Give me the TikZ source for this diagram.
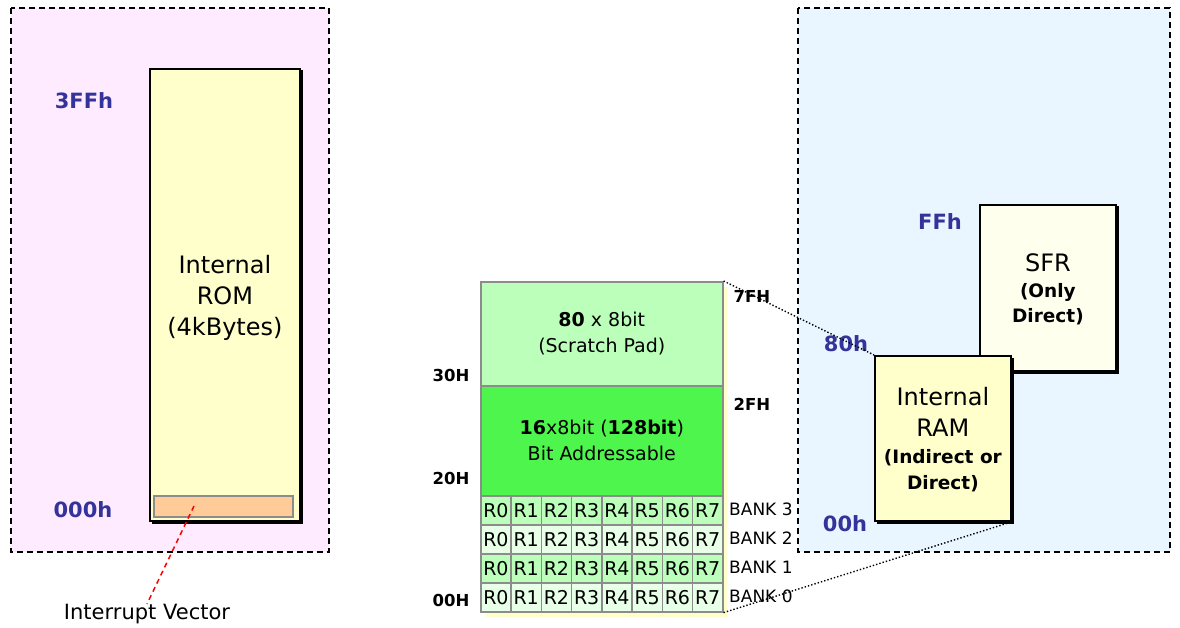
\documentclass[tikz,border=0pt]{standalone}
\usepackage{fontspec}
\setmainfont{DejaVu Sans}
\usetikzlibrary{positioning,shadows}

\definecolor{pinkarea}{HTML}{FFEBFF}
\definecolor{bluearea}{HTML}{EAF6FF}
\definecolor{memyellow}{HTML}{FFFFCC}
\definecolor{sfryellow}{HTML}{FFFFEE}
\definecolor{vecorange}{HTML}{FFCC99}
\definecolor{scratchgreen}{HTML}{BBFFBB}
\definecolor{bitgreen}{HTML}{4DF54D}
\definecolor{reglight}{HTML}{E8FFE8}
\definecolor{addrblue}{HTML}{333399}
\definecolor{cellgray}{HTML}{8C8C8C}

\newcommand{\modetxt}{\bfseries\fontsize{18.5}{24}\selectfont}

\tikzset{
  area/.style={draw=black, line width=2pt, dash pattern=on 6pt off 4pt},
  membox/.style={draw=black, line width=1.8pt, align=center, inner sep=0pt,
    anchor=north west, font=\fontsize{24}{31}\selectfont, text depth=-5pt,
    copy shadow={shadow xshift=2.5pt, shadow yshift=-2.5pt, draw=black, fill=black}},
  ramblock/.style={draw=cellgray, line width=1.6pt, align=center, inner sep=0pt,
    anchor=north west, minimum width=242pt, font=\fontsize{19}{26}\selectfont},
  regcell/.style={draw=cellgray, line width=1.6pt, inner sep=0pt, anchor=north west,
    minimum width=30.25pt, minimum height=29pt, font=\fontsize{19}{19}\selectfont},
  addr/.style={text=addrblue, font=\bfseries\fontsize{21}{21}\selectfont, inner sep=0pt},
  hexlbl/.style={font=\bfseries\fontsize{16.5}{16.5}\selectfont, inner sep=0pt},
  link/.style={line width=1.4pt, dash pattern=on 1.4pt off 2pt}
}

\begin{document}
\begin{tikzpicture}[x=1pt, y=-1pt]
  \useasboundingbox (0,0) rectangle (1180,628);

  % code memory
  \draw[area, fill=pinkarea] (11,8) rectangle (329,552);
  \node[membox, fill=memyellow, minimum width=150pt, minimum height=452pt] (rom) at (149,68)
    {Internal\\ROM\\(4kBytes)};
  \node[draw=cellgray, line width=1.6pt, fill=vecorange, anchor=north west,
    minimum width=139pt, minimum height=21pt, inner sep=0pt] (vec) at (153,495) {};
  \node[addr] (romtop) at (84,101) {3FFh};
  \node[addr] (rombot) at (83,510) {000h};
  \coordinate (vecpt) at (194,506);
  \node[font=\fontsize{21}{21}\selectfont, inner sep=0pt] (vectxt) at (147,614) {Interrupt Vector};
  \draw[red, line width=1.5pt, dash pattern=on 5pt off 4pt] (vecpt) -- (vectxt.north);

  % lower 128 bytes
  \fill[memyellow] (486,287) rectangle (727,617);
  \node[ramblock, fill=scratchgreen, minimum height=104pt] (scratch) at (480,281)
    {\textbf{80} x 8bit\\(Scratch Pad)};
  \node[ramblock, fill=bitgreen, minimum height=110pt] (bitaddr) at (480,385)
    {\textbf{16}x8bit (\textbf{128bit})\\Bit Addressable};
  \foreach \b/\c [count=\r from 0] in {3/scratchgreen,2/reglight,1/scratchgreen,0/reglight} {
    \foreach \i in {0,...,7}
      \node[regcell, fill=\c] (r\b\i) at ({480+30.25*\i},{495+29*\r}) {R\i};
    \node[anchor=west, inner sep=0pt, font=\fontsize{17}{17}\selectfont] (bank\b)
      at (729,{509.5+29*\r}) {BANK \b};
  }
  \node[hexlbl] (h7f) at (752,296) {7FH};
  \node[hexlbl] (h2f) at (752,404) {2FH};
  \node[hexlbl] (h30) at (451,375) {30H};
  \node[hexlbl] (h20) at (451,478) {20H};
  \node[hexlbl] (h00) at (451,600) {00H};

  % data memory
  \draw[area, fill=bluearea] (798,8) rectangle (1170,552);
  \node[membox, fill=sfryellow, minimum width=136pt, minimum height=166pt] (sfr) at (979,204)
    {SFR\\[-5pt]{\modetxt (Only}\\[-6pt]{\modetxt Direct)}};
  \node[membox, fill=memyellow, minimum width=136pt, minimum height=165pt] (ram) at (874,355)
    {Internal\\RAM\\[-4pt]{\modetxt (Indirect or}\\[-5pt]{\modetxt Direct)}};
  \node[addr] (ramff) at (940,222) {FFh};
  \node[addr] (ram80) at (846,344) {80h};
  \node[addr] (ram00) at (845,524) {00h};

  \draw[link] (scratch.north east) -- (ram.north west);
  \draw[link] (r07.south east) -- (ram.south east);
\end{tikzpicture}
\end{document}
